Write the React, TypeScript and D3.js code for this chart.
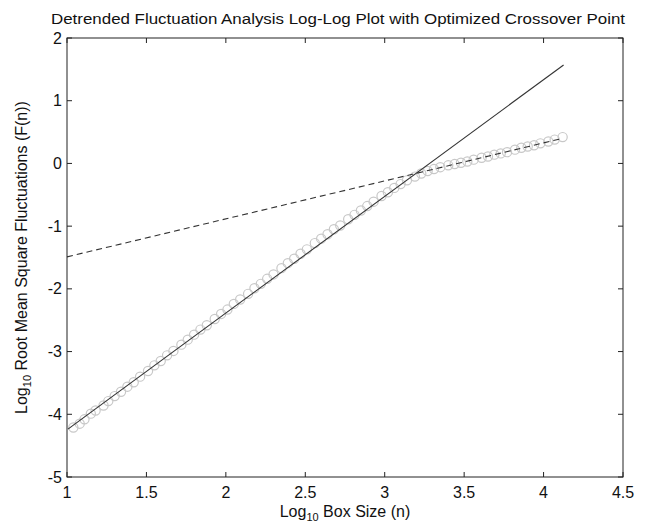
import * as d3 from 'd3';

// log10 box size of each DFA window
const boxLog = [
  1.04, 1.08, 1.11, 1.15, 1.18, 1.23, 1.26, 1.30, 1.34, 1.38, 1.42, 1.46, 1.51, 1.55, 1.59,
  1.63, 1.67, 1.72, 1.76, 1.80, 1.84, 1.88, 1.93, 1.97, 2.01, 2.05, 2.09, 2.14, 2.18, 2.22,
  2.26, 2.30, 2.35, 2.39, 2.43, 2.47, 2.51, 2.56, 2.60, 2.64, 2.68, 2.72, 2.77, 2.81, 2.85,
  2.89, 2.93, 2.98, 3.02, 3.06, 3.10, 3.14, 3.19, 3.23, 3.27, 3.31, 3.35, 3.40, 3.44, 3.48,
  3.52, 3.56, 3.61, 3.65, 3.69, 3.73, 3.77, 3.82, 3.86, 3.90, 3.94, 3.98, 4.03, 4.07, 4.12,
];
// log10 fluctuation F(n)
const fluctLog = [
  -4.21, -4.15, -4.08, -3.99, -3.94, -3.86, -3.79, -3.71, -3.64, -3.56, -3.49, -3.40, -3.31, -3.22, -3.15,
  -3.06, -2.99, -2.89, -2.81, -2.73, -2.65, -2.58, -2.48, -2.40, -2.33, -2.24, -2.17, -2.08, -1.99, -1.92,
  -1.84, -1.77, -1.67, -1.59, -1.52, -1.44, -1.37, -1.27, -1.20, -1.13, -1.05, -0.99, -0.89, -0.82, -0.75,
  -0.68, -0.61, -0.52, -0.46, -0.39, -0.33, -0.27, -0.21, -0.16, -0.12, -0.09, -0.06, -0.03, -0.01, 0.01,
  0.03, 0.06, 0.09, 0.11, 0.14, 0.16, 0.18, 0.22, 0.25, 0.27, 0.29, 0.32, 0.35, 0.38, 0.42,
];

// fitted lines (endpoints in data units)
const shortFitX = [1.006, 4.126];
const shortFitY = [-4.236, 1.57];
const longFitX = [1.0, 4.12];
const longFitY = [-1.49, 0.40];

const xTicks = [1, 1.5, 2, 2.5, 3, 3.5, 4, 4.5];
const yTicks = [-5, -4, -3, -2, -1, 0, 1, 2];

const W = 647;
const H = 525;
const margin = { top: 38, right: 24, bottom: 48, left: 67 };
const font = '"Liberation Sans Narrow", "Liberation Sans", Arial, sans-serif';

export default function App() {
  const x = d3.scaleLinear().domain([1, 4.5]).range([margin.left, W - margin.right]);
  const y = d3.scaleLinear().domain([-5, 2]).range([H - margin.bottom, margin.top]);

  const line = d3.line<[number, number]>().x(d => x(d[0])).y(d => y(d[1]));
  const shortFit = line(shortFitX.map((v, i) => [v, shortFitY[i]]) as [number, number][]);
  const longFit = line(longFitX.map((v, i) => [v, longFitY[i]]) as [number, number][]);

  const x0 = x(1), x1 = x(4.5), y0 = y(-5), y1 = y(2);
  const tk = 5;

  return (
    <svg width={W} height={H} style={{ position: 'absolute', left: 0, top: 0, background: '#fff' }}
      fontFamily={font}>
      <text x={338} y={24} textAnchor="middle" fontSize={15.5} fill="#111"
        textLength={574} lengthAdjust="spacingAndGlyphs">
        Detrended Fluctuation Analysis Log-Log Plot with Optimized Crossover Point
      </text>

      {boxLog.map((v, i) => (
        <circle key={i} cx={x(v)} cy={y(fluctLog[i])} r={4.6} fill="none" stroke="#c8c8c8" strokeWidth={1.2} />
      ))}

      <path d={shortFit ?? ''} fill="none" stroke="#333" strokeWidth={1.1} />
      <path d={longFit ?? ''} fill="none" stroke="#333" strokeWidth={1.1} strokeDasharray="6,4" />

      <rect x={x0} y={y1} width={x1 - x0} height={y0 - y1} fill="none" stroke="#222" strokeWidth={1} />

      {xTicks.map(t => (
        <g key={'x' + t}>
          <line x1={x(t)} x2={x(t)} y1={y0} y2={y0 - tk} stroke="#222" />
          <line x1={x(t)} x2={x(t)} y1={y1} y2={y1 + tk} stroke="#222" />
          <text x={x(t)} y={y0 + 21} textAnchor="middle" fontSize={16} fill="#111">{t}</text>
        </g>
      ))}
      {yTicks.map(t => (
        <g key={'y' + t}>
          <line x1={x0} x2={x0 + tk} y1={y(t)} y2={y(t)} stroke="#222" />
          <line x1={x1} x2={x1 - tk} y1={y(t)} y2={y(t)} stroke="#222" />
          <text x={x0 - 5} y={y(t)} dy="0.35em" textAnchor="end" fontSize={16} fill="#111">{t}</text>
        </g>
      ))}

      <text x={(x0 + x1) / 2} y={517} textAnchor="middle" fontSize={16} fill="#111">
        Log<tspan fontSize={11} dy={4}>10</tspan><tspan dy={-4}> Box Size (n)</tspan>
      </text>
      <text transform={`translate(27,${(y0 + y1) / 2}) rotate(-90)`} textAnchor="middle" fontSize={16} fill="#111">
        Log<tspan fontSize={11} dy={4}>10</tspan><tspan dy={-4}> Root Mean Square Fluctuations (F(n))</tspan>
      </text>
    </svg>
  );
}
